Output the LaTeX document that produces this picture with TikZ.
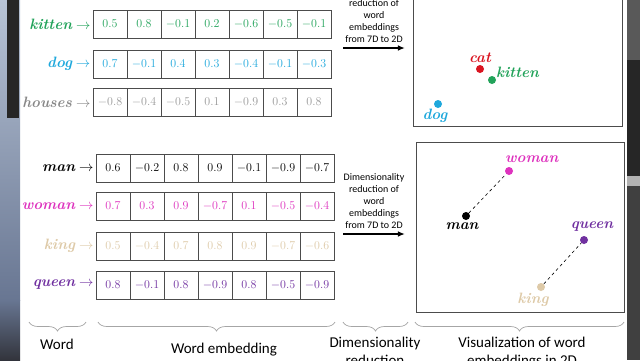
\documentclass[tikz,border=0pt]{standalone}
\usepackage{fontspec}
\setsansfont{Carlito}
\usetikzlibrary{arrows.meta, positioning, decorations.pathreplacing}

\definecolor{kittencol}{RGB}{34,163,90}
\definecolor{dogcol}{RGB}{30,168,220}
\definecolor{housecol}{RGB}{135,135,135}
\definecolor{womancol}{RGB}{222,50,190}
\definecolor{kingcol}{RGB}{222,202,168}
\definecolor{queencol}{RGB}{112,48,160}
\definecolor{catcol}{RGB}{218,20,32}

\begin{document}
\begin{tikzpicture}[
x=1pt, y=-1pt,
cell/.style={rectangle, draw=black!70, line width=0.8pt, minimum width=34pt, minimum height=28pt, inner sep=0pt, font=\fontsize{13}{15}\selectfont},
word/.style={inner sep=1pt, font=\fontsize{15}{17}\selectfont\bfseries\itshape},
dot/.style={circle, inner sep=0pt, minimum size=8pt},
note/.style={align=center, inner sep=0pt, font=\sffamily\fontsize{10}{12}\selectfont},
caption/.style={align=center, inner sep=0pt, font=\sffamily\fontsize{15}{18}\selectfont},
plot/.style={rectangle, draw=black!70, line width=0.9pt, inner sep=0pt},
line/.style={-{Latex[length=2.5mm, width=2mm]}, line width=1.5pt},
brace/.style={decorate, decoration={brace, mirror, amplitude=9pt}, draw=black!35, line width=0.7pt}
]
\useasboundingbox (0,0) rectangle (640,360);
\clip (0,0) rectangle (640,360);
\fill[white] (0,0) rectangle (640,360);

% photo around the slide
\shade[top color={rgb,255:red,184;green,196;blue,214}, bottom color={rgb,255:red,104;green,118;blue,146}] (0,0) rectangle (20,300);
\shade[top color={rgb,255:red,104;green,118;blue,146}, bottom color={rgb,255:red,50;green,52;blue,60}] (0,300) rectangle (20,360);
\fill[black!85] (7,0) rectangle (19,118);
\fill[black!65] (627,0) rectangle (640,60);
\fill[black!85] (627,60) rectangle (640,176);
\fill[black!30] (627,176) rectangle (640,186);
\fill[black!75] (627,186) rectangle (640,360);

% word vectors
\foreach \v [count=\i] in {0.5,0.8,-0.1,0.2,-0.6,-0.5,-0.1}
  \node[cell, text=kittencol] (kitten\i) at ({76+34*\i},24) {$\v$};
\foreach \v [count=\i] in {0.7,-0.1,0.4,0.3,-0.4,-0.1,-0.3}
  \node[cell, text=dogcol] (dog\i) at ({76+34*\i},64) {$\v$};
\foreach \v [count=\i] in {-0.8,-0.4,-0.5,0.1,-0.9,0.3,0.8}
  \node[cell, text=housecol!85] (houses\i) at ({76+34*\i},102) {$\v$};
\foreach \v [count=\i] in {0.6,-0.2,0.8,0.9,-0.1,-0.9,-0.7}
  \node[cell, text=black] (man\i) at ({79+34*\i},168) {$\v$};
\foreach \v [count=\i] in {0.7,0.3,0.9,-0.7,0.1,-0.5,-0.4}
  \node[cell, text=womancol] (woman\i) at ({79+34*\i},206) {$\v$};
\foreach \v [count=\i] in {0.5,-0.4,0.7,0.8,0.9,-0.7,-0.6}
  \node[cell, text=kingcol] (king\i) at ({79+34*\i},246) {$\v$};
\foreach \v [count=\i] in {0.8,-0.1,0.8,-0.9,0.8,-0.5,-0.9}
  \node[cell, text=queencol] (queen\i) at ({79+34*\i},285) {$\v$};

\node[word, text=kittencol, left=1pt of kitten1] (kittenw) {kitten\hspace{4pt}$\rightarrow$};
\node[word, text=dogcol, left=1pt of dog1] (dogw) {dog\hspace{4pt}$\rightarrow$};
\node[word, text=housecol, left=1pt of houses1] (housesw) {houses\hspace{4pt}$\rightarrow$};
\node[word, text=black, left=1pt of man1] (manw) {man\hspace{4pt}$\rightarrow$};
\node[word, text=womancol, left=1pt of woman1] (womanw) {woman\hspace{4pt}$\rightarrow$};
\node[word, text=kingcol, left=1pt of king1] (kingw) {king\hspace{4pt}$\rightarrow$};
\node[word, text=queencol, left=1pt of queen1] (queenw) {queen\hspace{4pt}$\rightarrow$};

% reduction arrows
\coordinate (arrAs) at (343,48);
\coordinate (arrAe) at (405,48);
\coordinate (arrBs) at (343,234);
\coordinate (arrBe) at (405,234);
\draw[line] (arrAs) -- (arrAe);
\draw[line] (arrBs) -- (arrBe);
\node[note, anchor=south] (noteA) at (374,43) {Dimensionality\\reduction of\\word\\embeddings\\from 7D to 2D};
\node[note, anchor=south] (noteB) at (374,229) {Dimensionality\\reduction of\\word\\embeddings\\from 7D to 2D};

% 2D plots
\node[plot, minimum width=209pt, minimum height=180pt] (plotA) at (517.5,36) {};
\node[plot, minimum width=208pt, minimum height=170pt] (plotB) at (520,227) {};

\node[dot, fill=catcol] (catdot) at (480,69) {};
\node[dot, fill=kittencol] (kittendot) at (492,80) {};
\node[dot, fill=dogcol] (dogdot) at (438,104) {};
\node[word, text=catcol, above=1pt of catdot] (catlab) {cat};
\node[word, text=kittencol, above right=-2pt and 0pt of kittendot] (kittenlab) {kitten};
\node[word, text=dogcol, below=0pt of dogdot, xshift=-3pt] (doglab) {dog};

\node[dot, fill=black] (mandot) at (466,216) {};
\node[dot, fill=womancol] (womandot) at (509,171) {};
\node[dot, fill=kingcol] (kingdot) at (541,287) {};
\node[dot, fill=queencol] (queendot) at (584,240) {};
\draw[dashed, line width=0.6pt] (mandot) -- (womandot);
\draw[dashed, line width=0.6pt] (kingdot) -- (queendot);
\node[word, text=black, below=1pt of mandot, xshift=-4pt] (manlab) {man};
\node[word, text=womancol, above right=4pt and -8pt of womandot] (womanlab) {woman};
\node[word, text=queencol, above=3pt of queendot, xshift=8pt] (queenlab) {queen};
\node[word, text=kingcol, below=1pt of kingdot, xshift=-8pt] (kinglab) {king};

% braces and captions
\coordinate (bAl) at (29,322);
\coordinate (bAr) at (86,322);
\coordinate (bBl) at (98,322);
\coordinate (bBr) at (335,322);
\coordinate (bCl) at (343,322);
\coordinate (bCr) at (408,322);
\coordinate (bDl) at (415,322);
\coordinate (bDr) at (624,322);
\draw[brace] (bAl) -- (bAr);
\draw[brace] (bBl) -- (bBr);
\draw[brace] (bCl) -- (bCr);
\draw[brace] (bDl) -- (bDr);
\node[caption, anchor=north] (capA) at (57,339) {Word};
\node[caption, anchor=north] (capB) at (224,343) {Word embedding};
\node[caption, anchor=north] (capC) at (375,337) {Dimensionality\\reduction};
\node[caption, anchor=north] (capD) at (522,337) {Visualization of word\\embeddings in 2D};
\end{tikzpicture}
\end{document}
